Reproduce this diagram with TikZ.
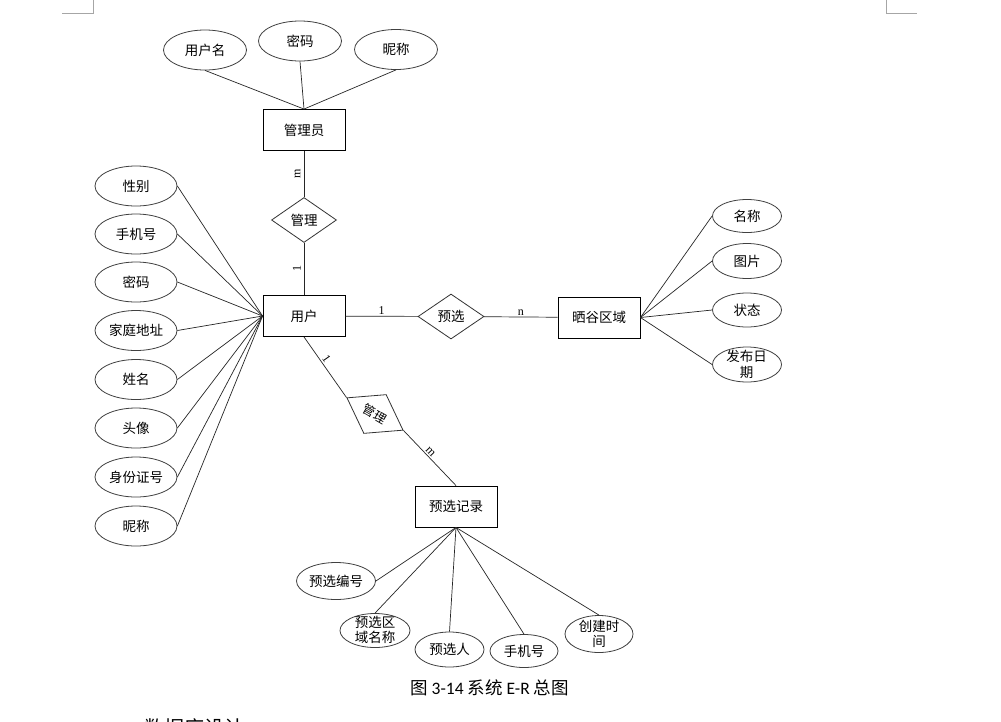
\documentclass[tikz,border=0pt]{standalone}
\usepackage{fontspec}
\setmainfont{Carlito}
\newfontfamily\cjk{Noto Sans CJK SC}
\newfontfamily\lserif{Liberation Serif}
\usetikzlibrary{shapes.geometric}
\begin{document}
\begin{tikzpicture}[x=1pt,y=-1pt,
  txt/.style={font=\cjk\fontsize{13.5}{15.5}\selectfont, align=center, inner sep=0pt},
  attr/.style={ellipse, draw=black!75, line width=0.8pt, inner sep=0pt, txt},
  la/.style={attr, minimum width=82pt, minimum height=40pt},
  sa/.style={attr, minimum width=69pt, minimum height=35pt},
  ent/.style={rectangle, draw=black, line width=0.9pt, minimum width=82pt, minimum height=41pt, inner sep=0pt, txt},
  rel/.style={diamond, draw=black!80, line width=0.8pt, minimum width=65pt, minimum height=45pt, inner sep=0pt, txt},
  conn/.style={draw=black!85, line width=0.7pt},
  card/.style={font=\lserif\fontsize{12}{12}\selectfont, inner sep=1.5pt},
  crop/.style={draw=black!35, line width=0.8pt}
]
\useasboundingbox (0,0) rectangle (1001,721);
\fill[white] (0,0) rectangle (1001,721);

% crop marks
\draw[crop] (93,0) -- (93,13) -- (62,13);
\draw[crop] (886,0) -- (886,13) -- (917,13);

% administrator
\node[ent] (adm) at (304,130) {管理员};
\node[la, minimum width=83pt] (aun) at (205,50) {用户名};
\node[la, minimum width=83pt] (apw) at (300,41) {密码};
\node[la, minimum width=83pt] (ank) at (396,49.5) {昵称};
\draw[conn] (aun.south) -- (adm.north);
\draw[conn] (apw.south) -- (adm.north);
\draw[conn] (ank.south) -- (adm.north);

\node[rel] (m1) at (304,220) {管理};
\node[ent] (user) at (304,316) {用户};
\draw[conn] (adm) -- node[card, midway, xshift=-6.5pt, rotate=90]{m} (m1);
\draw[conn] (m1) -- node[card, midway, xshift=-7pt, rotate=90]{1} (user);

% user attributes
\node[la] (u1) at (136,186) {性别};
\node[la] (u2) at (136,234) {手机号};
\node[la] (u3) at (136,282) {密码};
\node[la] (u4) at (136,330.5) {家庭地址};
\node[la] (u5) at (136,379.5) {姓名};
\node[la] (u6) at (136,428) {头像};
\node[la] (u7) at (136,477) {身份证号};
\node[la] (u8) at (136,526) {昵称};
\foreach \i in {1,...,8}{\draw[conn] (u\i.east) -- (user.west);}

% area
\node[rel, minimum width=66pt] (yx) at (451,316.5) {预选};
\node[ent] (sg) at (599,317.5) {晒谷区域};
\draw[conn] (user) -- node[card, midway, above]{1} (yx);
\draw[conn] (yx) -- node[card, midway, above]{n} (sg);

\node[sa, minimum height=33pt] (s1) at (747,216) {名称};
\node[sa] (s2) at (747,261) {图片};
\node[sa, minimum height=34pt] (s3) at (747,310) {状态};
\node[sa] (s4) at (747,364.5) {};
\node[txt] (s4t) at (746.5,364.5) {发布日\\期};
\foreach \i in {1,...,4}{\draw[conn] (sg.east) -- (s\i.west);}

% record
\node[rel, rotate=-30, font=\cjk\fontsize{12.5}{14}\selectfont] (m2) at (375,414) {管理};
\node[ent] (rec) at (456,506.5) {预选记录};
\draw[conn] (user.south) -- node[card, pos=.42, sloped, above]{1} (m2.west);
\draw[conn] (m2.east) -- node[card, pos=.45, sloped, above]{m} (rec.north);

\node[sa, minimum width=79pt, minimum height=37pt] (b1) at (336,581) {预选编号};
\node[sa, minimum width=70pt, minimum height=34pt] (b2) at (375,630.5) {};
\node[txt] (b2t) at (375,630) {预选区\\域名称};
\node[sa] (b3) at (449.5,649.5) {预选人};
\node[sa, minimum width=68pt, minimum height=33pt] (b4) at (524,651) {手机号};
\node[sa, minimum width=68pt, minimum height=37pt] (b5) at (599,634) {};
\node[txt] (b5t) at (599,634) {创建时\\间};
\draw[conn] (rec.south) -- (b1.east);
\draw[conn] (rec.south) -- (b2.north);
\draw[conn] (rec.south) -- (b3.north);
\draw[conn] (rec.south) -- (b4.north);
\draw[conn] (rec.south) -- (b5.north);

% caption
\node[font=\fontsize{17.5}{20}\selectfont, inner sep=0pt] (cap) at (489.5,688) {{\cjk 图} 3-14 {\cjk 系统} E-R {\cjk 总图}};

\begin{scope}
\clip (0,0) rectangle (1001,721);
\node[font=\cjk\fontsize{20}{20}\selectfont, anchor=north west, inner sep=0pt] (sec) at (144,718.5) {数据库设计};
\end{scope}
\end{tikzpicture}
\end{document}
